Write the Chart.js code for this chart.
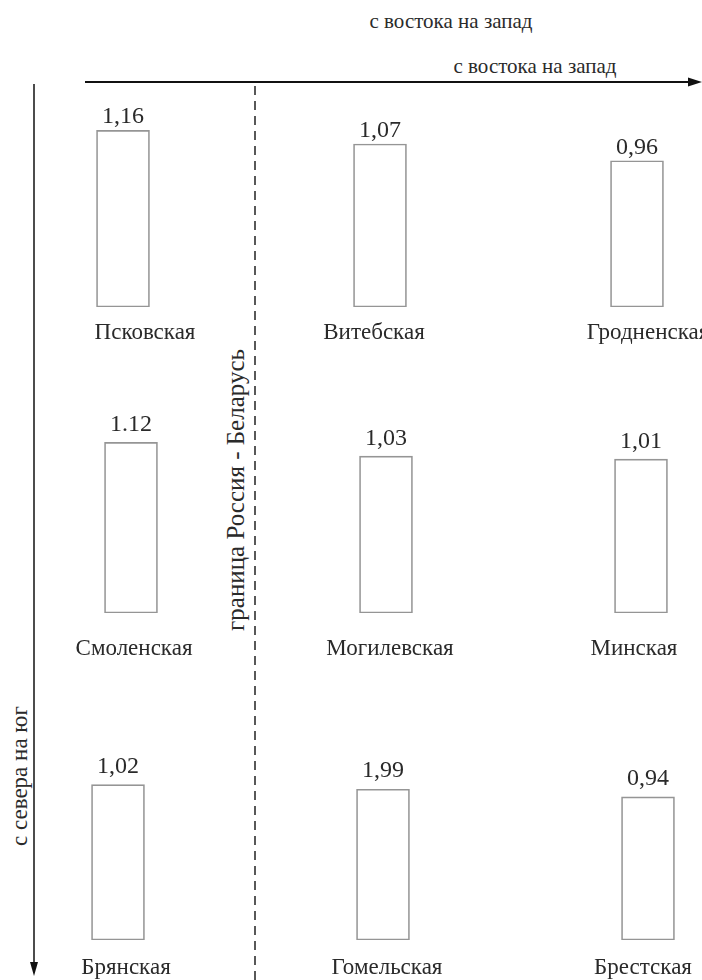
<!DOCTYPE html>
<html><head><meta charset="utf-8">
<script src="https://cdn.jsdelivr.net/npm/chart.js@4.4.1/dist/chart.umd.min.js"></script>
<style>
html,body{margin:0;padding:0;background:#fff;width:702px;height:980px;overflow:hidden;}
#deco{position:absolute;left:0;top:0;}
canvas.row{position:absolute;left:0;}
svg text{font-family:"Liberation Serif","Times New Roman",Times,"DejaVu Serif",serif;fill:#2a2a2a;}
</style></head><body>
<svg id="deco" width="702" height="980">
  <text x="451" y="28" text-anchor="middle" font-size="21">с востока на запад</text>
  <text x="535" y="73" text-anchor="middle" font-size="21">с востока на запад</text>
  <line x1="85" y1="82" x2="693" y2="82" stroke="#111" stroke-width="2"/>
  <polygon points="688,77.5 702,82 688,86.5" fill="#111"/>
  <line x1="34" y1="84" x2="34" y2="966" stroke="#111" stroke-width="1.5"/>
  <polygon points="30,962 34,976 38,962" fill="#111"/>
  <line x1="255" y1="86" x2="255" y2="980" stroke="#222" stroke-width="1.5" stroke-dasharray="9,6"/>
  <text transform="translate(27,776) rotate(-90)" text-anchor="middle" font-size="23">с севера на юг</text>
  <text transform="translate(244,490) rotate(-90)" text-anchor="middle" font-size="25">граница Россия - Беларусь</text>
</svg>
<canvas class="row" id="row0" width="702" height="285"></canvas>
<canvas class="row" id="row1" width="702" height="285"></canvas>
<canvas class="row" id="row2" width="702" height="285"></canvas>
<script>
// ---- data ----
const namesNorth  = ["Псковская", "Витебская", "Гродненская"];
const namesMiddle = ["Смоленская", "Могилевская", "Минская"];
const namesSouth  = ["Брянская", "Гомельская", "Брестская"];
const valuesNorth  = [1.16, 1.07, 0.96];
const valuesMiddle = [1.12, 1.03, 1.01];
const valuesSouth  = [1.02, 0.99, 0.94];
const labelsNorth  = ["1,16", "1,07", "0,96"];
const labelsMiddle = ["1.12", "1,03", "1,01"];
const labelsSouth  = ["1,02", "1,99", "0,94"];
const yMax = 1.3;

// ---- layout (positions/styles only) ----
const rowLayout = [
  {baseline: 307, c0: 123, step: 257, valueGap: 7,  nameGap: 32, nameDx: [22, -6, 11]},
  {baseline: 613, c0: 131, step: 255, valueGap: 11, nameGap: 42, nameDx: [3, 4, -7]},
  {baseline: 940, c0: 118, step: 265, valueGap: 12, nameGap: 34, nameDx: [8, 4, -5]}
];
const rows = [
  {names: namesNorth,  values: valuesNorth,  labels: labelsNorth},
  {names: namesMiddle, values: valuesMiddle, labels: labelsMiddle},
  {names: namesSouth,  values: valuesSouth,  labels: labelsSouth}
];
const padTop = 32, padBottom = 55, canvasH = 285;
const FONT = '"Liberation Serif", "Times New Roman", Times, "DejaVu Serif", serif';

const textPlugin = {
  id: 'cellText',
  afterDatasetsDraw(chart, args, opts) {
    const ctx = chart.ctx;
    const meta = chart.getDatasetMeta(0);
    ctx.save();
    ctx.fillStyle = '#2a2a2a';
    ctx.textAlign = 'center';
    ctx.textBaseline = 'alphabetic';
    meta.data.forEach((bar, i) => {
      ctx.font = '24px ' + FONT;
      ctx.fillText(opts.labels[i], bar.x, bar.y - opts.valueGap);
      ctx.font = '23px ' + FONT;
      ctx.fillText(opts.names[i], bar.x + opts.nameDx[i], bar.base + opts.nameGap);
    });
    ctx.restore();
  }
};

rows.forEach((row, r) => {
  const L = rowLayout[r];
  const cv = document.getElementById('row' + r);
  cv.style.top = (L.baseline - (canvasH - padBottom)) + 'px';
  new Chart(cv, {
    type: 'bar',
    data: {
      datasets: [{
        data: row.values.map((v, i) => ({x: i, y: v})),
        backgroundColor: 'rgba(255,255,255,0)',
        borderColor: '#959595',
        borderWidth: 1,
        borderSkipped: false,
        barThickness: 53
      }]
    },
    options: {
      responsive: false,
      animation: false,
      devicePixelRatio: 1,
      layout: {padding: {top: padTop, bottom: padBottom, left: 0, right: 0}},
      scales: {
        x: {type: 'linear', offset: false, min: -L.c0 / L.step, max: (702 - L.c0) / L.step, display: false},
        y: {min: 0, max: yMax, display: false}
      },
      plugins: {
        legend: {display: false},
        tooltip: {enabled: false},
        cellText: {labels: row.labels, names: row.names, valueGap: L.valueGap, nameGap: L.nameGap, nameDx: L.nameDx}
      }
    },
    plugins: [textPlugin]
  });
});
</script>
</body></html>
